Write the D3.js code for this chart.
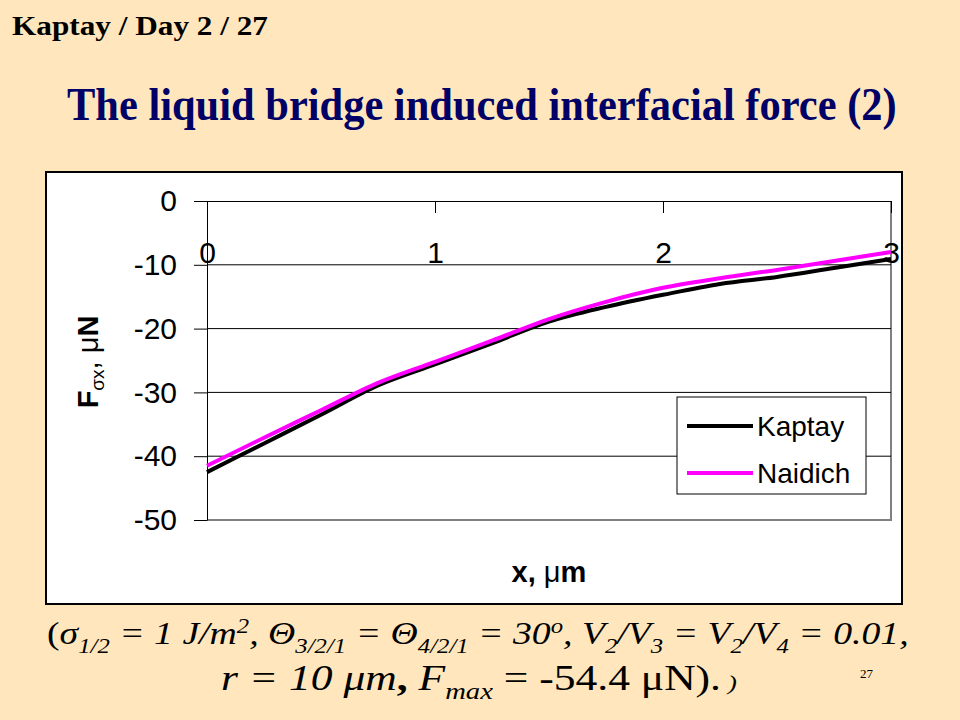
<!DOCTYPE html>
<html><head><meta charset="utf-8">
<script src="https://cdn.jsdelivr.net/npm/d3@7"></script>
<style>
html,body{margin:0;padding:0;background:#FFE6BC;}
svg{display:block;}
</style></head>
<body>
<script>
// ---- data ----
const xValues = [0, 0.25, 0.5, 0.75, 1, 1.25, 1.5, 1.75, 2, 2.25, 2.5, 2.75, 3];
const kaptay  = [-42.5, -38.0, -33.5, -28.9, -25.6, -22.3, -18.9, -16.6, -14.7, -13.0, -11.9, -10.5, -9.1];
const naidich = [-41.5, -37.1, -32.8, -28.5, -25.2, -21.9, -18.5, -15.8, -13.6, -12.1, -10.8, -9.4, -8.0];
const seriesNames = ["Kaptay", "Naidich"];
const seriesColors = ["#000000", "#FF00FF"];
const xTicks = [0, 1, 2, 3];
const yTicks = [0, -10, -20, -30, -40, -50];
const gridTicks = [-10, -20, -30, -40];

const W = 960, H = 720;
const svg = d3.select("body").append("svg").attr("width", W).attr("height", H);
svg.append("rect").attr("width", W).attr("height", H).attr("fill", "#FFE6BC");

const serif = "'Liberation Serif','Times New Roman',serif";
const sans = "'Liberation Sans',Arial,sans-serif";

// fit a text element horizontally into a given width by x-scaling
function fitWidth(sel, x0, width) {
  const w = sel.node().getBBox().width;
  const s = width / w;
  sel.attr("transform", `translate(${x0},0) scale(${s},1) translate(${-x0},0)`);
}

// header
svg.append("text").attr("x", 12).attr("y", 35)
  .attr("font-family", serif).attr("font-weight", "bold").attr("font-size", 28)
  .attr("textLength", 256).attr("lengthAdjust", "spacingAndGlyphs")
  .text("Kaptay / Day 2 / 27");

const title = svg.append("text").attr("x", 67).attr("y", 120)
  .attr("font-family", serif).attr("font-weight", "bold").attr("font-size", 47)
  .attr("fill", "#000066")
  .text("The liquid bridge induced interfacial force (2)");
fitWidth(title, 67, 830);

// chart box
svg.append("rect").attr("x", 46).attr("y", 172).attr("width", 856).attr("height", 432)
  .attr("fill", "#fff").attr("stroke", "#000").attr("stroke-width", 2);

const x = d3.scaleLinear().domain([0, 3]).range([207, 891]);
const y = d3.scaleLinear().domain([-50, 0]).range([520, 201]);

// plot border (gray right/bottom)
svg.append("path")
  .attr("d", `M${x(0)},${y(-50)}H${x(3)}V${y(0)}`)
  .attr("fill", "none").attr("stroke", "#808080").attr("stroke-width", 2);

// gridlines
svg.append("g").selectAll("line").data(gridTicks).join("line")
  .attr("x1", x(0)).attr("x2", x(3))
  .attr("y1", d => y(d)).attr("y2", d => y(d))
  .attr("stroke", "#000").attr("stroke-width", 1);

// y axis
const yAxis = svg.append("g").attr("transform", `translate(${x(0)},0)`)
  .call(d3.axisLeft(y).tickValues(yTicks).tickSize(13).tickPadding(17).tickSizeOuter(0).tickFormat(d => String(d)));
yAxis.selectAll("text").attr("font-family", sans).attr("font-size", 30).attr("fill", "#000");
yAxis.selectAll("line").attr("stroke", "#000");
yAxis.select(".domain").attr("stroke", "#000");

// x axis at y=0 with labels below
const xAxis = svg.append("g").attr("transform", `translate(0,${y(0)})`)
  .call(d3.axisBottom(x).tickValues(xTicks).tickSize(12).tickPadding(29).tickSizeOuter(0).tickFormat(d => String(d)));
xAxis.selectAll("text").attr("font-family", sans).attr("font-size", 30).attr("fill", "#000");
xAxis.selectAll("line").attr("stroke", "#000");
xAxis.select(".domain").attr("stroke", "#000");

// lines
const line = d3.line().x((d, i) => x(xValues[i])).y(d => y(d)).curve(d3.curveMonotoneX);
[kaptay, naidich].forEach((s, i) => {
  svg.append("path").datum(s).attr("d", line)
    .attr("fill", "none").attr("stroke", seriesColors[i]).attr("stroke-width", 4)
    .attr("stroke-linejoin", "round");
});

// legend
const lg = svg.append("g");
lg.append("rect").attr("x", 677).attr("y", 397).attr("width", 189).attr("height", 97)
  .attr("fill", "#fff").attr("stroke", "#000").attr("stroke-width", 1);
seriesNames.forEach((n, i) => {
  const cy = 426 + i * 47;
  lg.append("line").attr("x1", 687).attr("x2", 753).attr("y1", cy).attr("y2", cy)
    .attr("stroke", seriesColors[i]).attr("stroke-width", 4);
  lg.append("text").attr("x", 757).attr("y", cy + 10)
    .attr("font-family", sans).attr("font-size", 28).text(n);
});

// axis titles
const xt = svg.append("text").attr("x", 549).attr("y", 582).attr("text-anchor", "middle")
  .attr("font-family", sans).attr("font-size", 29).attr("font-weight", "bold");
xt.append("tspan").text("x, ");
xt.append("tspan").attr("font-weight", "normal").text("μ");
xt.append("tspan").text("m");

const yt = svg.append("text").attr("transform", "translate(98,362) rotate(-90)")
  .attr("text-anchor", "middle").attr("font-family", sans).attr("font-size", 29).attr("font-weight", "bold");
yt.append("tspan").text("F");
yt.append("tspan").attr("font-weight", "normal").attr("font-size", 19).attr("dy", 6).text("σx");
yt.append("tspan").attr("font-weight", "normal").attr("dy", -6).text(", μ");
yt.append("tspan").text("N");

// bottom caption
const line1Parts = [
  ["(", "", ""], ["σ", "", "i"], ["1/2", "sub", "i"], [" = 1 J/m", "", "i"], ["2", "super", "i"],
  [", ", "", "i"], ["Θ", "", "i"], ["3/2/1", "sub", "i"], [" = ", "", "i"], ["Θ", "", "i"], ["4/2/1", "sub", "i"],
  [" = 30", "", "i"], ["o", "super", "i"], [", V", "", "i"], ["2", "sub", "i"], ["/V", "", "i"], ["3", "sub", "i"],
  [" = V", "", "i"], ["2", "sub", "i"], ["/V", "", "i"], ["4", "sub", "i"], [" = 0.01,", "", "i"]
];
const t1 = svg.append("text").attr("x", 47).attr("y", 644)
  .attr("font-family", serif).attr("font-size", 32);
line1Parts.forEach(p => {
  const ts = t1.append("tspan").text(p[0]).attr("font-style", p[2] === "i" ? "italic" : "normal");
  if (p[1] === "sub") ts.attr("baseline-shift", -9).attr("font-size", 21);
  if (p[1] === "super") ts.attr("baseline-shift", 11).attr("font-size", 21);
});
fitWidth(t1, 47, 862);

const line2Parts = [
  ["r = 10 μm", "", "i", ""], [",", "", "", "b"], [" F", "", "i", ""], ["max", "sub", "i", ""],
  [" = -54.4 μN).", "", "", ""], [" )", "", "i", "small"]
];
const t2 = svg.append("text").attr("x", 221).attr("y", 690)
  .attr("font-family", serif).attr("font-size", 35);
line2Parts.forEach(p => {
  const ts = t2.append("tspan").text(p[0]).attr("font-style", p[2] === "i" ? "italic" : "normal");
  if (p[3] === "b") ts.attr("font-weight", "bold");
  if (p[1]) ts.attr("baseline-shift", -9).attr("font-size", 23);
  if (p[3] === "small") ts.attr("font-size", 22);
});
fitWidth(t2, 221, 516);

svg.append("text").attr("x", 860).attr("y", 678).attr("font-family", serif).attr("font-size", 13).text("27");
</script>
</body></html>
